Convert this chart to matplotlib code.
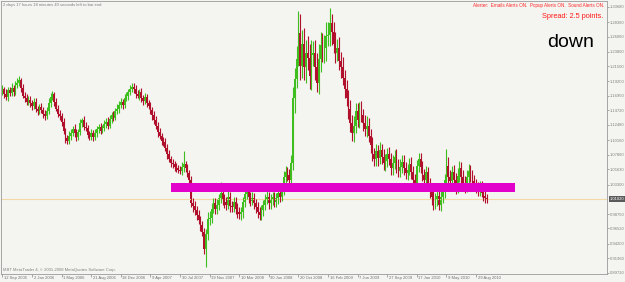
import matplotlib
matplotlib.use("Agg")
import matplotlib.pyplot as plt
import matplotlib.transforms as mtransforms
from matplotlib.patches import Rectangle

# weekly closes, one row per 16-bar block (Sep 2005 .. Sep 2010)
closes = [
    1.180, 1.172, 1.168, 1.178, 1.174, 1.182, 1.176, 1.186, 1.190, 1.194, 1.182, 1.170, 1.166, 1.160, 1.164, 1.158,
    1.154, 1.160, 1.150, 1.146, 1.152, 1.148, 1.142, 1.138, 1.146, 1.158, 1.168, 1.172, 1.160, 1.150, 1.142, 1.138,
    1.130, 1.116, 1.104, 1.100, 1.108, 1.112, 1.118, 1.112, 1.106, 1.114, 1.128, 1.132, 1.122, 1.120, 1.110, 1.106,
    1.112, 1.106, 1.112, 1.118, 1.122, 1.116, 1.120, 1.126, 1.130, 1.124, 1.134, 1.140, 1.136, 1.146, 1.150, 1.156,
    1.160, 1.156, 1.166, 1.170, 1.176, 1.180, 1.184, 1.180, 1.172, 1.170, 1.176, 1.166, 1.162, 1.168, 1.158, 1.154,
    1.148, 1.140, 1.132, 1.124, 1.114, 1.108, 1.100, 1.098, 1.090, 1.080, 1.072, 1.066, 1.064, 1.060, 1.058, 1.056,
    1.054, 1.060, 1.064, 1.058, 1.050, 1.040, 1.004, 1.000, 0.994, 0.986, 0.978, 0.970, 0.960, 0.934, 0.956, 0.980,
    0.982, 0.996, 1.004, 0.996, 1.002, 1.012, 1.020, 1.010, 1.006, 1.002, 1.014, 1.000, 0.998, 1.006, 0.996, 0.990,
    0.988, 0.990, 1.006, 1.018, 1.024, 1.014, 1.008, 1.012, 1.004, 0.998, 0.990, 0.986, 0.994, 1.002, 1.010, 1.014,
    1.004, 1.010, 1.014, 1.006, 1.012, 1.020, 1.014, 1.026, 1.044, 1.052, 1.048, 1.040, 1.066, 1.166, 1.196, 1.226,
    1.266, 1.216, 1.250, 1.214, 1.236, 1.228, 1.200, 1.232, 1.236, 1.214, 1.190, 1.226, 1.248, 1.238, 1.244, 1.262,
    1.264, 1.282, 1.268, 1.250, 1.236, 1.244, 1.224, 1.214, 1.198, 1.180, 1.166, 1.150, 1.128, 1.112, 1.124, 1.146,
    1.132, 1.150, 1.140, 1.128, 1.118, 1.124, 1.108, 1.094, 1.080, 1.072, 1.084, 1.074, 1.086, 1.076, 1.066, 1.070,
    1.080, 1.072, 1.058, 1.066, 1.076, 1.062, 1.054, 1.060, 1.068, 1.058, 1.050, 1.056, 1.064, 1.052, 1.040, 1.036,
    1.062, 1.072, 1.060, 1.048, 1.040, 1.052, 1.034, 1.022, 1.014, 1.004, 1.010, 1.016, 1.002, 1.014, 1.022, 1.040,
    1.062, 1.044, 1.038, 1.052, 1.040, 1.030, 1.046, 1.058, 1.044, 1.036, 1.030, 1.044, 1.054, 1.046, 1.038, 1.034,
    1.028, 1.024, 1.030, 1.020, 1.016, 1.012, 1.010,
]
first_open = 1.176

# upper / lower shadow beyond the body, in 0.001
wick_up = [
    6, 4, 8, 5, 6, 7, 5, 6, 8, 6, 4, 6, 5, 7, 5, 6,
    5, 7, 6, 4, 5, 6, 5, 6, 7, 8, 6, 5, 4, 6, 5, 6,
    5, 6, 4, 5, 7, 6, 5, 8, 6, 5, 6, 4, 6, 7, 5, 6,
    6, 5, 7, 5, 4, 6, 5, 6, 5, 7, 6, 5, 6, 5, 7, 6,
    6, 5, 7, 6, 5, 7, 6, 5, 6, 7, 5, 6, 5, 6, 5, 6,
    6, 5, 6, 7, 5, 6, 5, 6, 7, 5, 6, 5, 6, 5, 6, 5,
    6, 8, 21, 6, 7, 6, 6, 8, 7, 6, 8, 6, 7, 6, 8, 10,
    10, 9, 8, 8, 8, 7, 17, 10, 8, 7, 9, 8, 7, 8, 7, 8,
    8, 9, 8, 9, 8, 7, 8, 9, 8, 7, 8, 9, 8, 7, 8, 9,
    8, 9, 8, 7, 8, 9, 8, 9, 10, 9, 8, 9, 12, 18, 16, 20,
    34, 30, 22, 24, 20, 26, 22, 24, 18, 20, 22, 24, 20, 18, 20, 22,
    20, 23, 14, 16, 18, 14, 16, 14, 16, 12, 14, 12, 14, 12, 14, 12,
    12, 10, 12, 10, 12, 14, 12, 10, 12, 10, 12, 10, 12, 10, 11, 10,
    10, 11, 10, 12, 10, 11, 10, 12, 10, 11, 10, 9, 10, 11, 10, 9,
    9, 10, 9, 10, 9, 10, 8, 9, 10, 9, 10, 9, 10, 9, 10, 9,
    25, 14, 12, 10, 11, 10, 12, 11, 10, 12, 10, 11, 10, 9, 10, 9,
    8, 9, 8, 9, 8, 7, 6,
]
wick_dn = [
    5, 6, 4, 6, 5, 4, 6, 5, 4, 5, 6, 4, 6, 5, 4, 5,
    6, 4, 5, 6, 4, 5, 6, 5, 4, 5, 6, 5, 6, 4, 5, 6,
    6, 5, 7, 4, 5, 6, 4, 5, 6, 4, 5, 6, 5, 4, 6, 5,
    5, 6, 4, 5, 6, 5, 4, 5, 6, 5, 4, 6, 5, 4, 5, 6,
    5, 6, 5, 4, 6, 5, 4, 6, 5, 4, 6, 5, 6, 5, 6, 5,
    6, 7, 5, 6, 7, 5, 6, 5, 6, 7, 5, 6, 5, 6, 5, 6,
    5, 6, 7, 6, 5, 7, 6, 9, 8, 7, 6, 8, 7, 8, 28, 8,
    9, 8, 7, 8, 9, 8, 7, 8, 9, 8, 7, 9, 8, 7, 8, 9,
    8, 10, 8, 7, 8, 9, 8, 7, 8, 9, 8, 7, 8, 9, 8, 7,
    8, 9, 8, 7, 8, 9, 8, 7, 9, 8, 9, 8, 8, 10, 22, 14,
    10, 22, 18, 20, 24, 18, 20, 22, 16, 20, 14, 18, 20, 16, 18, 20,
    16, 18, 20, 14, 16, 12, 14, 16, 12, 14, 12, 16, 14, 12, 14, 12,
    10, 12, 10, 12, 10, 12, 10, 12, 10, 11, 10, 12, 10, 11, 10, 12,
    10, 9, 11, 10, 9, 11, 10, 9, 10, 11, 9, 10, 9, 10, 11, 10,
    9, 10, 9, 10, 9, 10, 9, 10, 12, 10, 9, 10, 9, 10, 9, 10,
    10, 12, 11, 10, 12, 11, 10, 9, 10, 11, 10, 9, 10, 9, 10, 9,
    8, 9, 8, 7, 8, 7, 6,
]

date_labels = ["12 Sep 2005", "2 Jan 2006", "1 May 2006", "21 Aug 2006", "18 Dec 2006",
               "9 Apr 2007", "30 Jul 2007", "19 Nov 2007", "10 Mar 2008", "30 Jun 2008",
               "20 Oct 2008", "16 Feb 2009", "7 Jun 2009", "27 Sep 2009", "17 Jan 2010",
               "9 May 2010", "29 Aug 2010"]
price_labels = ["1.30680", "1.28360", "1.26060", "1.23800", "1.21500", "1.19200",
                "1.16950", "1.14720", "1.12480", "1.10160", "1.07860", "1.05630",
                "1.03300", "0.98750", "0.96520", "0.94200", "0.91960", "0.89720"]
last_price = 1.01020
zone_bars = (91, 277)
zone_prices = (1.0210, 1.0350)

bg = "#f4f4f0"
bull = "#3fbf1f"
bear = "#b0102c"
small = dict(family="Liberation Sans", fontsize=3.0)

W, H = 625, 282
fig = plt.figure(figsize=(W / 100, H / 100), dpi=100, facecolor=bg)
ax = fig.add_axes([1 / W, 8 / H, 606 / W, 273 / H], facecolor=bg)

opens = [first_open] + closes[:-1]
for i, (o, c) in enumerate(zip(opens, closes)):
    hi = max(o, c) + wick_up[i] / 1000
    lo = min(o, c) - wick_dn[i] / 1000
    col = bull if c >= o else bear
    ax.vlines(i, lo, hi, color=col, lw=0.8)
    ax.bar(i, max(abs(c - o), 0.0008), bottom=min(o, c), width=0.9, color=col, lw=0)

# support zone
ax.add_patch(Rectangle((zone_bars[0], zone_prices[0]), zone_bars[1] - zone_bars[0],
                       zone_prices[1] - zone_prices[0], color="#e200cb", lw=0, zorder=3))

# bid line
ax.axhline(last_price, color="#f2d9a6", lw=0.8, zorder=1)

ax.set_xlim(-0.8, 326.8)
ax.set_ylim(0.8950, 1.3160)

for s in ax.spines.values():
    s.set_color("#9a9a9a")
    s.set_linewidth(0.6)

# date axis
ax.set_xticks([16 * k for k in range(len(date_labels))])
ax.set_xticklabels([])
ax.tick_params(axis="x", length=2, width=0.5, color="#888888", direction="out")
trans = mtransforms.blended_transform_factory(ax.transData, ax.transAxes)
for k, lab in enumerate(date_labels):
    ax.text(16 * k + 0.8, -0.016, lab, transform=trans, ha="left", va="center",
            color="#707070", **small)

# price axis
ax.yaxis.tick_right()
ax.set_yticks([float(p) for p in price_labels])
ax.set_yticklabels(price_labels, color="#808080", **small)
ax.tick_params(axis="y", length=1.5, width=0.5, color="#888888", pad=0.8)

ytrans = mtransforms.blended_transform_factory(ax.transAxes, ax.transData)
ax.text(1.004, last_price, "%.5f" % last_price, transform=ytrans, ha="left", va="center",
        color="white", bbox=dict(boxstyle="square,pad=0.2", fc="#5a5a5a", ec="none"), **small)

# chart annotations
fig.text(3 / W, 1 - 5 / H, "2 days 17 hours 18 minutes 40 seconds left to bar end",
         color="#808080", va="center", **small)
fig.text(3 / W, 1 - 270 / H, "MBT MetaTrader 4, \u00a9 2001-2008 MetaQuotes Software Corp.",
         color="#808080", va="center", **small)
fig.text(604 / W, 1 - 6 / H, "Alerter:  Emails Alerts ON.  Popup Alerts ON.  Sound Alerts ON.",
         color="#ff2a2a", ha="right", va="center", family="Liberation Sans", fontsize=3.3)
fig.text(603 / W, 1 - 17 / H, "Spread: 2.5 points.", fontsize=5.3, color="#ff1a1a",
         ha="right", va="center", family="Liberation Sans")
fig.text(547 / W, 1 - 47 / H, "down", fontsize=14, color="black", ha="left",
         va="baseline", family="Liberation Sans")

fig.savefig("out.png", dpi=100, facecolor=bg)
